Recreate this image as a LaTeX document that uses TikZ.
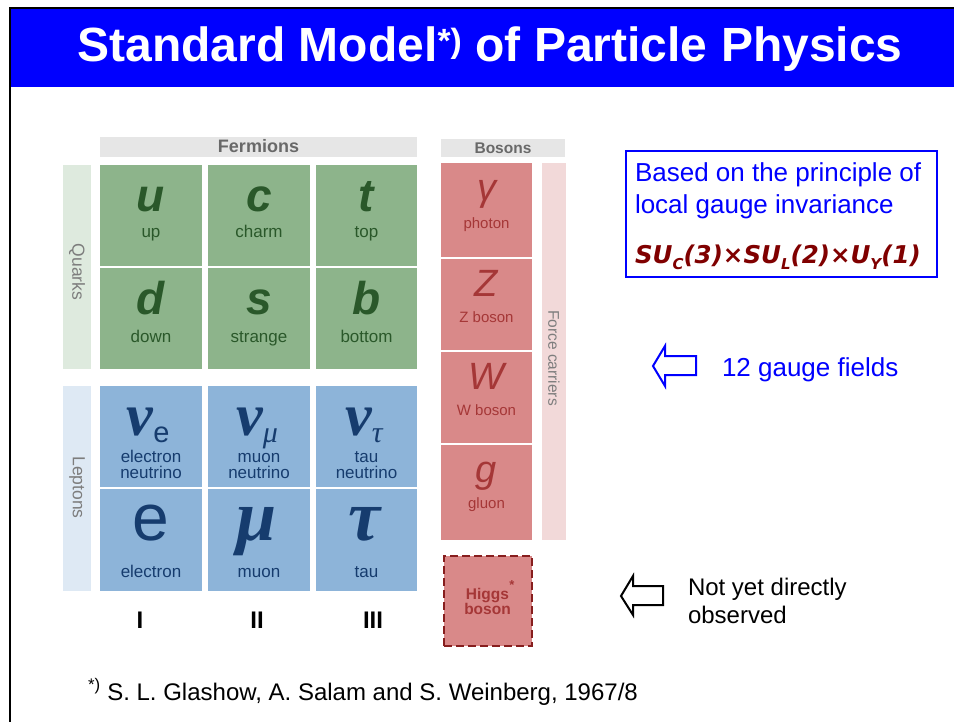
\documentclass[tikz,border=0pt]{standalone}
\usepackage{fontspec}
\setmainfont{Liberation Sans}
\newfontfamily\grserif{Liberation Serif}
\newfontfamily\dvsans{DejaVu Sans}
\definecolor{qcell}{RGB}{141,180,139}
\definecolor{qtext}{RGB}{42,88,42}
\definecolor{qbar}{RGB}{222,234,222}
\definecolor{lcell}{RGB}{141,180,217}
\definecolor{ltext}{RGB}{22,60,110}
\definecolor{lbar}{RGB}{222,233,244}
\definecolor{bcell}{RGB}{217,137,137}
\definecolor{btext}{RGB}{165,55,55}
\definecolor{bbar}{RGB}{242,217,217}
\definecolor{hdr}{RGB}{230,230,230}
\definecolor{hdrtext}{RGB}{105,105,105}
\definecolor{sidetext}{RGB}{125,125,125}
\definecolor{higgsline}{RGB}{135,30,30}
\definecolor{formred}{RGB}{128,0,0}
\definecolor{titleblue}{RGB}{0,0,255}
\newcommand{\fs}[1]{\fontsize{#1}{#1}\selectfont}
\newcommand{\bignu}{{\grserif\bfseries\itshape\fs{60}ν}}
\newcommand{\lsub}[1]{\lower7pt\hbox{#1}}
\newcommand{\fsub}[1]{\lower6pt\hbox{\fs{15}#1}}
\begin{document}
\begin{tikzpicture}[x=1pt,y=-1pt,
  box/.style={inner sep=0pt, outer sep=0pt, draw=none},
  gcell/.style={box, fill=qcell},
  bluecell/.style={box, fill=lcell},
  redcell/.style={box, fill=bcell},
  txt/.style={inner sep=0pt, outer sep=0pt, anchor=base},
  qsym/.style={txt, text=qtext, font=\fs{46}\bfseries\itshape},
  qname/.style={txt, text=qtext, font=\fs{17}},
  lsym/.style={txt, text=ltext},
  lname/.style={txt, text=ltext, font=\fs{17}},
  bsym/.style={txt, text=btext, font=\fs{38}\itshape},
  bname/.style={txt, text=btext, font=\fs{15}},
  hdrtxt/.style={txt, text=hdrtext, font=\bfseries},
  sidetxt/.style={inner sep=0pt, text=sidetext, rotate=-90},
  roman/.style={txt, font=\fs{24}\bfseries},
  bluetxt/.style={txt, anchor=base west, text=titleblue, font=\fs{26}},
  blacktxt/.style={txt, anchor=base west, font=\fs{24}}]
\useasboundingbox (0,0) rectangle (954,722);
\fill[white] (0,0) rectangle (954,722);
% title band and frame
\fill[titleblue] (11,9.5) rectangle (954,87);
\draw[line width=2.8pt] (10,722) -- (10,8) -- (954,8);
\node[txt, text=white, font=\fs{48}\bfseries] (title) at (490,62)
  {Standard Model\textsuperscript{*)} of Particle Physics};
% headers
\node[box, fill=hdr, minimum width=317, minimum height=20] (fermh) at (258.5,147) {};
\node[hdrtxt, font=\fs{18}\bfseries] (fermt) at (258.5,153) {Fermions};
\node[box, fill=hdr, minimum width=124, minimum height=18] (bosh) at (503,148) {};
\node[hdrtxt, font=\fs{15.5}\bfseries] (bost) at (503,153.5) {Bosons};
% side bars
\node[box, fill=qbar, minimum width=28, minimum height=204] (qbarn) at (77,267) {};
\node[sidetxt, font=\fs{17.5}] (qbart) at (77,272) {Quarks};
\node[box, fill=lbar, minimum width=28, minimum height=205] (lbarn) at (77,488.5) {};
\node[sidetxt, font=\fs{17.5}] (lbart) at (77,487.5) {Leptons};
\node[box, fill=bbar, minimum width=24, minimum height=377] (fbar) at (554,351.5) {};
\node[sidetxt, font=\fs{15.5}] (fbart) at (554,358) {Force carriers};
% quarks
\node[gcell, minimum width=102, minimum height=101] (cu) at (151,215.5) {};
\node[gcell, minimum width=102, minimum height=101] (cc) at (259,215.5) {};
\node[gcell, minimum width=101, minimum height=101] (ct) at (366.5,215.5) {};
\node[gcell, minimum width=102, minimum height=101] (cd) at (151,318.5) {};
\node[gcell, minimum width=102, minimum height=101] (cs) at (259,318.5) {};
\node[gcell, minimum width=101, minimum height=101] (cb) at (366.5,318.5) {};
\node[qsym] (su) at (151,212) {u};
\node[qsym] (sc) at (259,212) {c};
\node[qsym] (st) at (366.5,212) {t};
\node[qsym] (sd) at (151,315) {d};
\node[qsym] (ss) at (259,315) {s};
\node[qsym] (sb) at (366.5,315) {b};
\node[qname] (nu) at (151,238) {up};
\node[qname] (nc) at (259,238) {charm};
\node[qname] (nt) at (366.5,238) {top};
\node[qname] (nd) at (151,343) {down};
\node[qname] (ns) at (259,343) {strange};
\node[qname] (nb) at (366.5,343) {bottom};
% leptons
\node[bluecell, minimum width=102, minimum height=101] (cnue) at (151,436.5) {};
\node[bluecell, minimum width=102, minimum height=101] (cnum) at (259,436.5) {};
\node[bluecell, minimum width=101, minimum height=101] (cnut) at (366.5,436.5) {};
\node[bluecell, minimum width=102, minimum height=102] (ce) at (151,540) {};
\node[bluecell, minimum width=102, minimum height=102] (cm) at (259,540) {};
\node[bluecell, minimum width=101, minimum height=102] (cta) at (366.5,540) {};
\node[lsym] (snue) at (148,435) {\bignu\lsub{\fs{29}e}};
\node[lsym] (snum) at (257,435) {\bignu\lsub{\grserif\itshape\fs{30}μ}};
\node[lsym] (snut) at (364,435) {\bignu\lsub{\grserif\itshape\fs{30}τ}};
\node[lname] (nnue1) at (151,462) {electron};
\node[lname] (nnue2) at (151,478) {neutrino};
\node[lname] (nnum1) at (259,462) {muon};
\node[lname] (nnum2) at (259,478) {neutrino};
\node[lname] (nnut1) at (366.5,462) {tau};
\node[lname] (nnut2) at (366.5,478) {neutrino};
\node[lsym, font=\fs{66}] (se) at (151,540) {e};
\node[lsym, font=\grserif\bfseries\itshape\fs{72}] (sm) at (257,540) {μ};
\node[lsym, font=\grserif\bfseries\itshape\fs{72}] (sta) at (364,540) {τ};
\node[lname] (ne) at (151,577) {electron};
\node[lname] (nm) at (259,577) {muon};
\node[lname] (nta) at (366.5,577) {tau};
% generations
\node[roman] (g1) at (140,628) {I};
\node[roman] (g2) at (257,628) {II};
\node[roman] (g3) at (373,628) {III};
% bosons
\node[redcell, minimum width=91, minimum height=94] (cg) at (486.5,210) {};
\node[redcell, minimum width=91, minimum height=91] (cz) at (486.5,304.5) {};
\node[redcell, minimum width=91, minimum height=91] (cw) at (486.5,397.5) {};
\node[redcell, minimum width=91, minimum height=95] (cgl) at (486.5,492.5) {};
\node[bsym] (sg) at (486.5,201) {γ};
\node[bsym] (sz) at (486.5,297) {Z};
\node[bsym] (sw) at (486.5,389) {W};
\node[bsym] (sgl) at (486.5,482) {g};
\node[bname] (ng) at (486.5,229) {photon};
\node[bname] (nz) at (486.5,323) {Z boson};
\node[bname] (nw) at (486.5,415) {W boson};
\node[bname] (ngl) at (486.5,508) {gluon};
% Higgs
\node[redcell, draw=higgsline, line width=1.8pt, dash pattern=on 8pt off 4pt,
  minimum width=88, minimum height=90] (higgs) at (488,601) {};
\node[txt, text=btext, font=\fs{15.5}\bfseries] (h1) at (487.5,599) {Higgs};
\node[txt, text=btext, font=\fs{15.5}\bfseries] (h2) at (487.5,614) {boson};
\node[txt, text=btext, font=\fs{13}\bfseries] (hstar) at (512,589) {*};
% right box
\node[box, draw=titleblue, line width=2.5pt, minimum width=311, minimum height=126] (sbox) at (781.5,214) {};
\node[bluetxt] (b1) at (635,182) {Based on the principle of};
\node[bluetxt] (b2) at (635,214) {local gauge invariance};
\node[txt, anchor=base west, text=formred, font=\dvsans\bfseries\itshape\fs{24.5}] (form) at (635,264)
  {SU\fsub{C}(3)×SU\fsub{L}(2)×U\fsub{Y}(1)};
% arrows
\coordinate (a1tip) at (653,366);
\draw[titleblue, line width=2pt, line join=miter] (a1tip) -- (665,346) -- (665,356) -- (696,356)
  -- (696,375) -- (665,375) -- (665,386) -- cycle;
\node[bluetxt] (gf) at (722,376) {12 gauge fields};
\coordinate (a2tip) at (621,596);
\draw[black, line width=2pt, line join=miter] (a2tip) -- (633,576) -- (633,586) -- (663,586)
  -- (663,605) -- (633,605) -- (633,615) -- cycle;
\node[blacktxt] (ny1) at (688,595) {Not yet directly};
\node[blacktxt] (ny2) at (688,623) {observed};
% footnote
\node[blacktxt] (foot) at (88,700) {\textsuperscript{*)} S. L. Glashow, A. Salam and S. Weinberg, 1967/8};
\end{tikzpicture}
\end{document}
